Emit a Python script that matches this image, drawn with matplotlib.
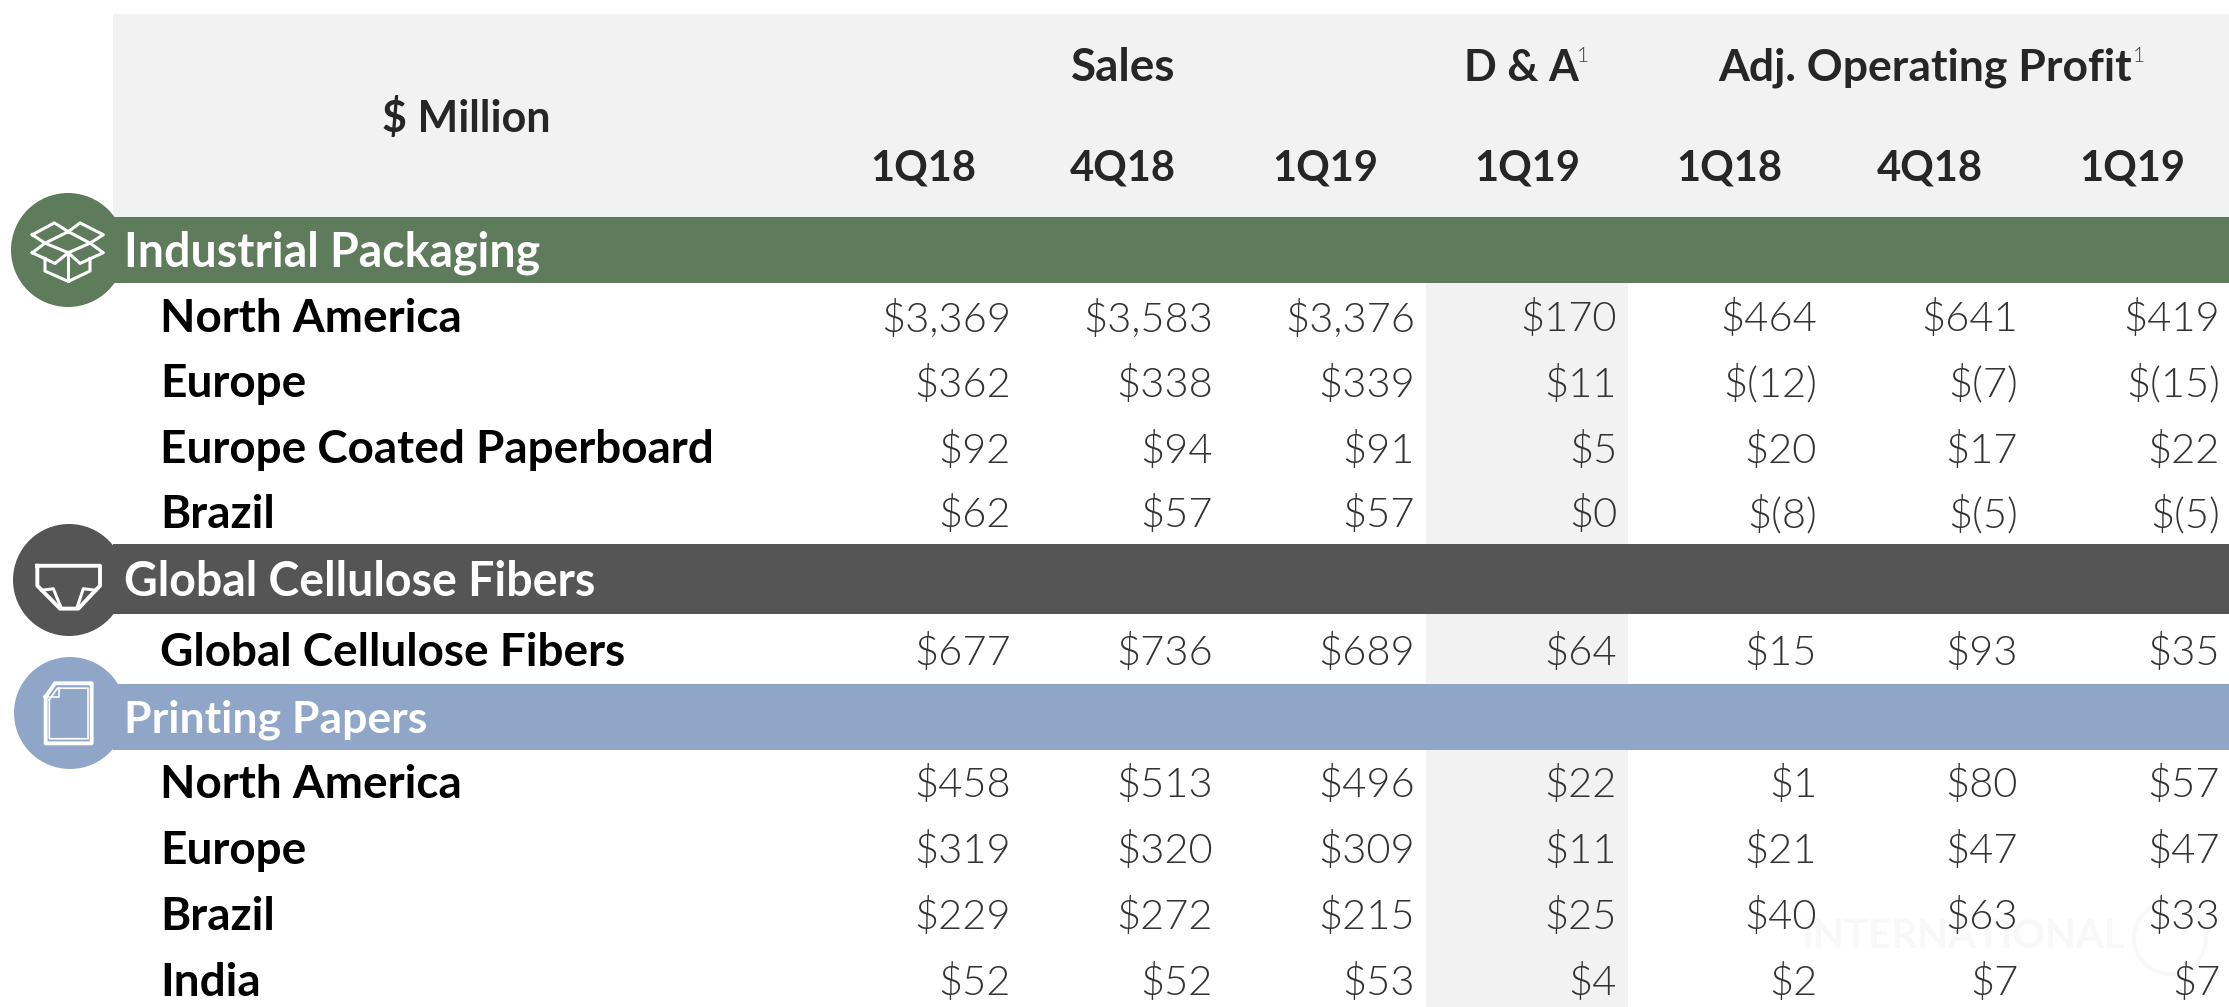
import matplotlib
matplotlib.use('Agg')
import matplotlib.pyplot as plt
from matplotlib.patches import Rectangle, Ellipse

# table content
periods = ['1Q18', '4Q18', '1Q19', '1Q19', '1Q18', '4Q18', '1Q19']
groups = ['Sales', 'D & A', 'Adj. Operating Profit']
sections = ['Industrial Packaging', 'Global Cellulose Fibers', 'Printing Papers']
row_names = ['North America', 'Europe', 'Europe Coated Paperboard', 'Brazil',
             'Global Cellulose Fibers',
             'North America', 'Europe', 'Brazil', 'India']

sales_1q18 = ['$3,369', '$362', '$92', '$62', '$677', '$458', '$319', '$229', '$52']
sales_4q18 = ['$3,583', '$338', '$94', '$57', '$736', '$513', '$320', '$272', '$52']
sales_1q19 = ['$3,376', '$339', '$91', '$57', '$689', '$496', '$309', '$215', '$53']
da_1q19 = ['$170', '$11', '$5', '$0', '$64', '$22', '$11', '$25', '$4']
aop_1q18 = ['$464', '$(12)', '$20', '$(8)', '$15', '$1', '$21', '$40', '$2']
aop_4q18 = ['$641', '$(7)', '$17', '$(5)', '$93', '$80', '$47', '$63', '$7']
aop_1q19 = ['$419', '$(15)', '$22', '$(5)', '$35', '$57', '$47', '$33', '$7']
columns = [sales_1q18, sales_4q18, sales_1q19, da_1q19, aop_1q18, aop_4q18, aop_1q19]

# layout in pixels
row_y = [319, 384, 450, 515, 653, 785, 851, 917, 983]
col_right = [1011, 1213, 1415, 1617, 1817, 2018, 2220]
col_center = [923, 1123, 1325, 1527, 1729, 1930, 2132]
GREEN, DARK, BLUE = '#5e7b5c', '#555555', '#8fa6c8'
INK = '#262626'

plt.rcParams['font.family'] = ['Lato', 'DejaVu Sans']

fig = plt.figure(figsize=(22.29, 10.07), dpi=100)
ax = fig.add_axes([0, 0, 1, 1])
ax.set_xlim(0, 2229)
ax.set_ylim(1007, 0)
ax.axis('off')

# backgrounds
ax.add_patch(Rectangle((113, 14), 2116, 203, fc='#f2f2f2', ec='none'))
ax.add_patch(Rectangle((1426, 283), 202, 724, fc='#f2f2f2', ec='none'))

# faint watermark
ax.text(1802, 937, 'INTERNATIONAL', fontsize=29, fontweight='bold', color='#f8f8f8',
        va='center', ha='left', zorder=1)
ax.add_patch(Ellipse((2170, 938), 72, 72, fc='none', ec='#f8f8f8', lw=3, zorder=1))

# coloured bands and icon discs
bands = [(217, 66, GREEN, 68, 250, 57, 33.5), (544, 70, DARK, 69, 580, 56, 33.5), (684, 66, BLUE, 70, 713, 56, 32)]
for (top, h, col, cx, cy, r, fs), name in zip(bands, sections):
    ax.add_patch(Rectangle((113, top), 2116, h, fc=col, ec='none', zorder=2))
    ax.add_patch(Ellipse((cx, cy), 2 * r, 2 * r, fc=col, ec='none', zorder=2))
    ax.text(124, top + h / 2 + 3, name, fontsize=fs, fontweight='bold', color='white',
            va='center', ha='left', zorder=3)


def icon_line(pts, lw=2.2):
    xs = [p[0] / 3 for p in pts]
    ys = [180 + p[1] / 2.613 for p in pts]
    ax.plot(xs, ys, color='white', lw=lw, zorder=4, solid_joinstyle='round')


# box icon
icon_line([(97, 143), (163, 112), (205, 135), (135, 165), (97, 143)])
icon_line([(205, 135), (240, 112), (310, 143), (270, 165), (205, 135)])
icon_line([(97, 190), (135, 165), (205, 190), (165, 218), (97, 190)])
icon_line([(205, 190), (270, 165), (310, 190), (240, 218), (205, 190)])
icon_line([(135, 205), (135, 238), (205, 265), (270, 238), (270, 205)])
icon_line([(205, 190), (205, 265)])
# diaper icon
icon_line([(112, 1008), (300, 1008), (300, 1060), (235, 1120), (180, 1120), (112, 1060), (112, 1008)], 2.8)
icon_line([(125, 1072), (160, 1068), (182, 1115)])
icon_line([(288, 1072), (250, 1068), (232, 1115)])
# paper icon
icon_line([(137, 1350), (165, 1315), (275, 1315), (275, 1472), (137, 1472), (137, 1350)], 2.8)
icon_line([(148, 1358), (172, 1328), (264, 1328), (264, 1460), (148, 1460), (148, 1358)], 1.2)
icon_line([(148, 1350), (176, 1350), (176, 1328)], 1.2)

# header
ax.text(466, 118, '$ Million', fontsize=31, fontweight='bold', color=INK, ha='center', va='center')
ax.text(1123, 68, groups[0], fontsize=33, fontweight='bold', color=INK, ha='center', va='center')
ax.text(1521, 68, groups[1], fontsize=31, fontweight='bold', color=INK, ha='center', va='center')
ax.text(1925, 68, groups[2], fontsize=32, fontweight='bold', color=INK, ha='center', va='center')
ax.text(1583, 56, '1', fontsize=15, fontweight=300, color='#444444', ha='center', va='center')
ax.text(2139, 56, '1', fontsize=15, fontweight=300, color='#444444', ha='center', va='center')
for x, p in zip(col_center, periods):
    ax.text(x, 169, p, fontsize=30, fontweight='bold', color=INK, ha='center', va='center')

# rows
for i, (y, name) in enumerate(zip(row_y, row_names)):
    ax.text(160, y, name, fontsize=33, fontweight='bold', color='black', va='center', ha='left', zorder=3)
    for x, col in zip(col_right, columns):
        ax.text(x, y, col[i], fontsize=30, fontweight=300, color='#333333',
                va='center', ha='right', zorder=3)

fig.savefig('out.png', dpi=100)
